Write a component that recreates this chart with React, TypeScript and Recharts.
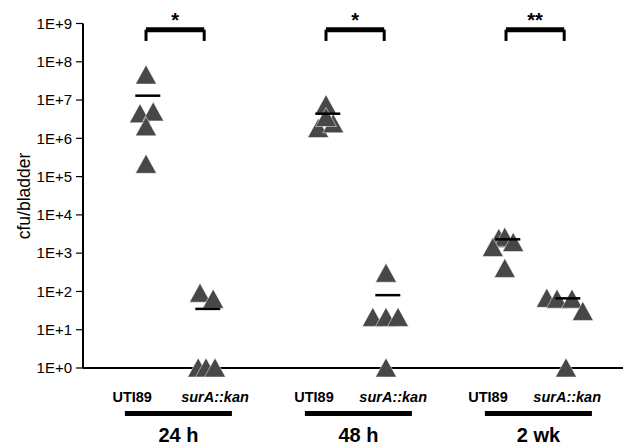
import React from "react";
import {
  ScatterChart,
  Scatter,
  XAxis,
  YAxis,
  ReferenceLine,
} from "recharts";

const groups = ["24 h", "48 h", "2 wk"];
const strains = ["UTI89", "surA::kan"];
const stars = ["*", "*", "**"];

// cfu/bladder per mouse
const uti89_24h = [4.5e7, 4.4e6, 4.9e6, 2.0e6, 2.1e5];
const sura_24h = [90, 63, 1, 1, 1];
const uti89_48h = [7.5e6, 1.8e6, 2.4e6, 3.5e6];
const sura_48h = [300, 21, 21, 21, 1];
const uti89_2wk = [2400, 2600, 1900, 1400, 400];
const sura_2wk = [66, 63, 63, 30, 1];

// horizontal jitter of each point (in category units)
const jit_uti89_24h = [0, -0.1, 0.12, 0, 0];
const jit_sura_24h = [-0.1, 0.12, -0.13, 0, 0.15];
const jit_uti89_48h = [0, -0.13, 0.12, 0];
const jit_sura_48h = [0, -0.22, 0, 0.2, 0];
const jit_uti89_2wk = [-0.12, -0.02, 0.12, -0.22, -0.02];
const jit_sura_2wk = [-0.32, -0.15, 0.1, 0.28, 0];

// group means (bars drawn on the plot)
const means = [1.3e7, 35, 4.4e6, 80, 2300, 66];

const yTicks = [1, 10, 100, 1e3, 1e4, 1e5, 1e6, 1e7, 1e8, 1e9];

// layout
const groupPos = [1, 4, 7];
const strainLabelOffset = [
  [-0.23, 0.15],
  [-0.2, 0.12],
  [-0.3, 0.02],
];
const groupBarOffset = 0.54;
const bracketY = 6.9e8;
const bracketFoot = 3.5e8;
const TRI = "#474747";

const seriesVals = [uti89_24h, sura_24h, uti89_48h, sura_48h, uti89_2wk, sura_2wk];
const seriesJit = [jit_uti89_24h, jit_sura_24h, jit_uti89_48h, jit_sura_48h, jit_uti89_2wk, jit_sura_2wk];

const points = seriesVals.flatMap((vals, i) => {
  const base = groupPos[Math.floor(i / 2)] + (i % 2);
  return vals.map((v, j) => ({ x: base + seriesJit[i][j], y: v }));
});

const meanPoints = means.map((m, i) => ({
  x: groupPos[Math.floor(i / 2)] + (i % 2) + 0.03,
  y: m,
}));

type TickInfo = { text: string; kind: "strain" | "group"; italic?: boolean };
const tickInfo = new Map<number, TickInfo>();
groups.forEach((g, gi) => {
  strains.forEach((s, si) => {
    tickInfo.set(groupPos[gi] + si + strainLabelOffset[gi][si], {
      text: s,
      kind: "strain",
      italic: si === 1,
    });
  });
  tickInfo.set(groupPos[gi] + groupBarOffset, { text: g, kind: "group" });
});
const xTicks = Array.from(tickInfo.keys()).sort((a, b) => a - b);

const font = "'Liberation Sans', Arial, sans-serif";

const Triangle = (props: any) => {
  const { cx, cy } = props;
  return (
    <polygon
      points={`${cx},${cy - 10} ${cx - 10.5},${cy + 9} ${cx + 10.5},${cy + 9}`}
      fill={TRI}
      stroke="#fff"
      strokeWidth={0.5}
    />
  );
};

const MeanBar = (props: any) => {
  const { cx, cy } = props;
  return <line x1={cx - 12.5} x2={cx + 12.5} y1={cy} y2={cy} stroke="#000" strokeWidth={2.5} />;
};

const XTick = (props: any) => {
  const { x, payload } = props;
  const info = tickInfo.get(payload.value);
  if (!info) return null;
  if (info.kind === "strain") {
    return (
      <text
        x={x}
        y={402}
        textAnchor="middle"
        fontFamily={font}
        fontSize={14.5}
        fontWeight="bold"
        fontStyle={info.italic ? "italic" : "normal"}
        fill="#000"
      >
        {info.text}
      </text>
    );
  }
  return (
    <g>
      <rect x={x - 53.5} y={411} width={107} height={5} fill="#000" />
      <text
        x={x}
        y={442}
        textAnchor="middle"
        fontFamily={font}
        fontSize={20}
        fontWeight="bold"
        fill="#000"
      >
        {info.text}
      </text>
    </g>
  );
};

export default function App() {
  return (
    <div style={{ position: "absolute", left: 0, top: 0, background: "#fff" }}>
      <ScatterChart
        width={623}
        height={446}
        margin={{ top: 23.5, right: 0, bottom: 0, left: 0 }}
      >
        <XAxis
          type="number"
          dataKey="x"
          domain={[-0.05, 8.95]}
          ticks={xTicks}
          tick={<XTick />}
          tickLine={false}
          axisLine={{ stroke: "#000", strokeWidth: 2 }}
          height={78}
          interval={0}
        />
        <YAxis
          type="number"
          dataKey="y"
          scale="log"
          domain={[1, 1e9]}
          ticks={yTicks}
          interval={0}
          width={83}
          tickSize={7}
          tickMargin={4}
          tickLine={{ stroke: "#000", strokeWidth: 1.2 }}
          axisLine={{ stroke: "#000", strokeWidth: 2 }}
          tick={{ fontFamily: font, fontSize: 15, fill: "#000" }}
          tickFormatter={(v: number) => `1E+${Math.round(Math.log10(v))}`}
          label={{
            content: () => (
              <text
                x={23.5}
                y={196}
                transform="rotate(-90 23.5 196)"
                textAnchor="middle"
                dominantBaseline="central"
                fontFamily={font}
                fontSize={17.5}
                fill="#000"
              >
                cfu/bladder
              </text>
            ),
          }}
        />
        <Scatter data={points} shape={<Triangle />} isAnimationActive={false} />
        <Scatter data={meanPoints} shape={<MeanBar />} isAnimationActive={false} />
        {groupPos.map((p, i) => (
          <ReferenceLine
            key={`h${i}`}
            segment={[
              { x: p, y: bracketY },
              { x: p + 0.97, y: bracketY },
            ]}
            stroke="#000"
            strokeWidth={5}
            ifOverflow="visible"
            label={{
              value: stars[i],
              position: "top",
              offset: 3,
              fontFamily: font,
              fontSize: 20,
              fontWeight: "bold",
              fill: "#000",
            }}
          />
        ))}
        {groupPos.map((p, i) => (
          <ReferenceLine
            key={`l${i}`}
            segment={[
              { x: p, y: bracketY },
              { x: p, y: bracketFoot },
            ]}
            stroke="#000"
            strokeWidth={3}
            ifOverflow="visible"
          />
        ))}
        {groupPos.map((p, i) => (
          <ReferenceLine
            key={`r${i}`}
            segment={[
              { x: p + 0.97, y: bracketY },
              { x: p + 0.97, y: bracketFoot },
            ]}
            stroke="#000"
            strokeWidth={3}
            ifOverflow="visible"
          />
        ))}
      </ScatterChart>
    </div>
  );
}
